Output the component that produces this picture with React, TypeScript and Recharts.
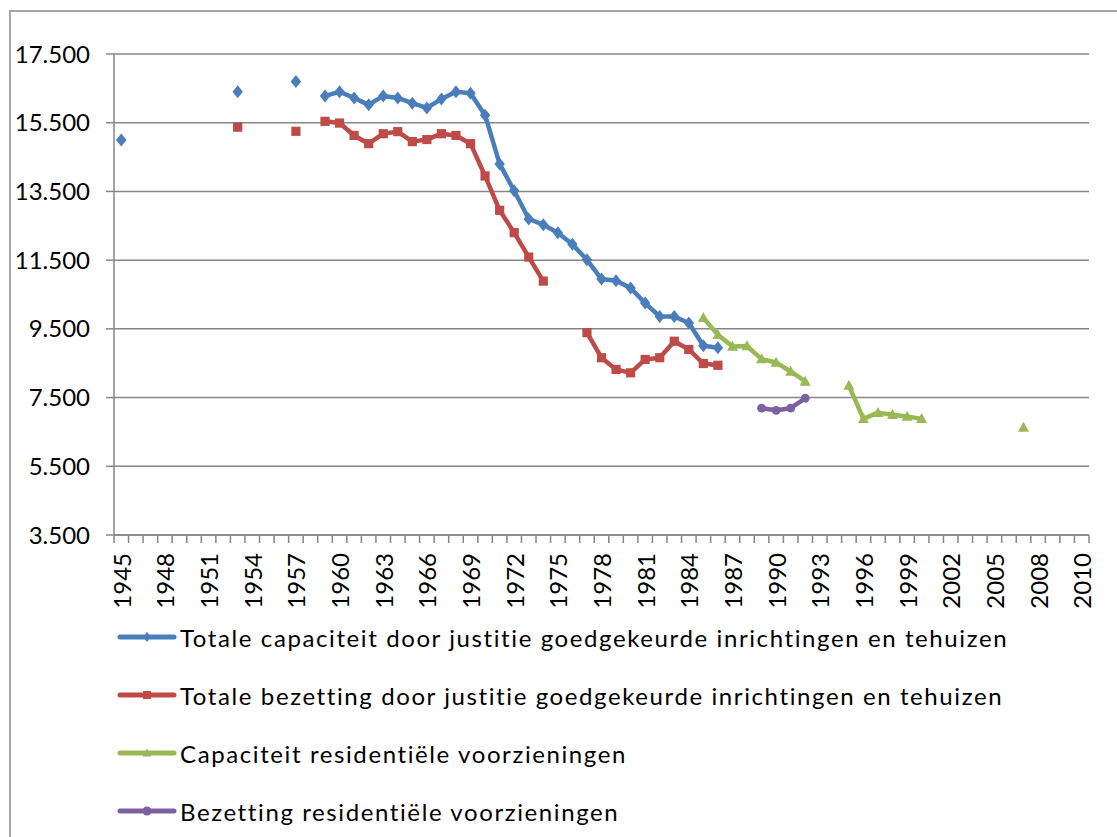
import { CartesianGrid, Legend, Line, LineChart, XAxis, YAxis } from "recharts";

// one slot per category on the source axis; the unlabelled slot before 2010 is kept as in the original
const categories = [
  "1945", "1946", "1947", "1948", "1949", "1950", "1951", "1952", "1953", "1954",
  "1955", "1956", "1957", "1958", "1959", "1960", "1961", "1962", "1963", "1964",
  "1965", "1966", "1967", "1968", "1969", "1970", "1971", "1972", "1973", "1974",
  "1975", "1976", "1977", "1978", "1979", "1980", "1981", "1982", "1983", "1984",
  "1985", "1986", "1987", "1988", "1989", "1990", "1991", "1992", "1993", "1994",
  "1995", "1996", "1997", "1998", "1999", "2000", "2001", "2002", "2003", "2004",
  "2005", "2006", "2007", "2008", "2009", "", "2010",
];

const capaciteitYears = [
  "1945", "1953", "1957", "1959", "1960", "1961", "1962", "1963", "1964", "1965",
  "1966", "1967", "1968", "1969", "1970", "1971", "1972", "1973", "1974", "1975",
  "1976", "1977", "1978", "1979", "1980", "1981", "1982", "1983", "1984", "1985", "1986",
];
const capaciteitValues = [
  15000, 16400, 16700, 16280, 16400, 16220, 16020, 16280, 16220, 16070,
  15930, 16190, 16400, 16360, 15720, 14300, 13520, 12700, 12530, 12300,
  11960, 11510, 10950, 10900, 10690, 10250, 9860, 9860, 9670, 9010, 8950,
];

const bezettingYears = [
  "1953", "1957", "1959", "1960", "1961", "1962", "1963", "1964", "1965", "1966",
  "1967", "1968", "1969", "1970", "1971", "1972", "1973", "1974",
  "1977", "1978", "1979", "1980", "1981", "1982", "1983", "1984", "1985", "1986",
];
const bezettingValues = [
  15370, 15250, 15540, 15490, 15130, 14890, 15180, 15240, 14950, 15010,
  15180, 15130, 14890, 13950, 12950, 12300, 11590, 10890,
  9390, 8660, 8320, 8220, 8610, 8660, 9140, 8900, 8490, 8440,
];

const capResYears = [
  "1985", "1986", "1987", "1988", "1989", "1990", "1991", "1992",
  "1995", "1996", "1997", "1998", "1999", "2000", "2007",
];
const capResValues = [
  9820, 9330, 8990, 9000, 8620, 8520, 8260, 7970,
  7850, 6880, 7060, 7000, 6950, 6880, 6630,
];

const bezResYears = ["1989", "1990", "1991", "1992"];
const bezResValues = [7190, 7130, 7190, 7480];

const yTicks = [3500, 5500, 7500, 9500, 11500, 13500, 15500, 17500];

const seriesLabels = [
  "Totale capaciteit door justitie goedgekeurde inrichtingen en tehuizen",
  "Totale bezetting door justitie goedgekeurde inrichtingen en tehuizen",
  "Capaciteit residentiële voorzieningen",
  "Bezetting residentiële voorzieningen",
];

const BLUE = "#4A7EBB";
const RED = "#BE4B48";
const GREEN = "#98B954";
const PURPLE = "#7D60A0";
const GRID = "#868686";
const FONT = "Lato, 'Open Sans', sans-serif";

const WIDTH = 1117;
const HEIGHT = 837;
const PLOT_LEFT = 114;
const PLOT_RIGHT = 1089;
// line charts put points on a point scale; pad by half a slot so they sit mid-category
const HALF_STEP = (PLOT_RIGHT - PLOT_LEFT) / categories.length / 2;

function lookup(years: string[], values: number[], year: string) {
  if (year === "") return null;
  const i = years.indexOf(year);
  return i >= 0 ? values[i] : null;
}

const chartData = categories.map((year) => ({
  year,
  capaciteit: lookup(capaciteitYears, capaciteitValues, year),
  bezetting: lookup(bezettingYears, bezettingValues, year),
  capRes: lookup(capResYears, capResValues, year),
  bezRes: lookup(bezResYears, bezResValues, year),
}));

function formatThousands(value: number) {
  const s = String(value);
  return s.length > 3 ? `${s.slice(0, s.length - 3)}.${s.slice(-3)}` : s;
}

type Shape = "diamond" | "square" | "triangle" | "circle";

function markerPath(shape: Shape, cx: number, cy: number, s: number) {
  if (shape === "diamond") {
    return `M${cx},${cy - s * 1.25}L${cx + s},${cy}L${cx},${cy + s * 1.25}L${cx - s},${cy}Z`;
  }
  if (shape === "square") {
    return `M${cx - s},${cy - s}H${cx + s}V${cy + s}H${cx - s}Z`;
  }
  if (shape === "triangle") {
    return `M${cx},${cy - s * 1.15}L${cx + s * 1.1},${cy + s * 0.85}L${cx - s * 1.1},${cy + s * 0.85}Z`;
  }
  return "";
}

function makeDot(shape: Shape, color: string, size: number) {
  return (props: any) => {
    const { cx, cy, index } = props;
    if (cx == null || cy == null || props.value == null) return <g key={`d-${index}`} />;
    if (shape === "circle") {
      return <circle key={`d-${index}`} cx={cx} cy={cy} r={size} fill={color} />;
    }
    return <path key={`d-${index}`} d={markerPath(shape, cx, cy, size)} fill={color} />;
  };
}

function XTick(props: any) {
  const { x, y, payload, index } = props;
  const showLabel = index % 3 === 0;
  return (
    <g>
      {index === 0 ? (
        <line x1={x - HALF_STEP} y1={y} x2={x - HALF_STEP} y2={y + 8} stroke={GRID} strokeWidth={1.5} />
      ) : null}
      <line x1={x + HALF_STEP} y1={y} x2={x + HALF_STEP} y2={y + 8} stroke={GRID} strokeWidth={1.5} />
      {showLabel ? (
        <text
          x={x}
          y={y + 18}
          transform={`rotate(-90 ${x} ${y + 18})`}
          textAnchor="end"
          dominantBaseline="central"
          fontFamily={FONT}
          fontSize={24}
          fill="#000"
        >
          {payload.value}
        </text>
      ) : null}
    </g>
  );
}

const legendRows: { label: string; color: string; shape: Shape }[] = [
  { label: seriesLabels[0], color: BLUE, shape: "diamond" },
  { label: seriesLabels[1], color: RED, shape: "square" },
  { label: seriesLabels[2], color: GREEN, shape: "triangle" },
  { label: seriesLabels[3], color: PURPLE, shape: "circle" },
];

function LegendBox() {
  return (
    <div style={{ position: "relative", height: 232, width: WIDTH }}>
      {legendRows.map((row, i) => (
        <div
          key={row.label}
          style={{
            position: "absolute",
            left: 116,
            top: 32 + i * 58 - 16,
            height: 32,
            display: "flex",
            alignItems: "center",
          }}
        >
          <svg width={62} height={20} style={{ display: "block" }}>
            <line x1={4} y1={10} x2={58} y2={10} stroke={row.color} strokeWidth={5} strokeLinecap="round" />
            {row.shape === "circle" ? (
              <circle cx={31} cy={10} r={4.5} fill={row.color} />
            ) : (
              <path d={markerPath(row.shape, 31, 10, 4)} fill={row.color} />
            )}
          </svg>
          <span
            style={{
              marginLeft: 2,
              fontFamily: FONT,
              fontSize: 24,
              letterSpacing: 1.6,
              color: "#000",
              whiteSpace: "nowrap",
            }}
          >
            {row.label}
          </span>
        </div>
      ))}
    </div>
  );
}

export default function App() {
  return (
    <div
      style={{
        position: "fixed",
        left: 0,
        top: 0,
        width: WIDTH,
        height: HEIGHT,
        overflow: "hidden",
        background: "#fff",
      }}
    >
      <div
        style={{
          position: "absolute",
          left: 9,
          top: 10,
          width: 1200,
          height: 900,
          border: "2px solid #a6a6a6",
        }}
      />
      <div style={{ position: "absolute", left: 0, top: 0 }}>
        <LineChart
          width={WIDTH}
          height={HEIGHT}
          data={chartData}
          margin={{ top: 54, right: WIDTH - PLOT_RIGHT, bottom: 0, left: 0 }}
        >
          <CartesianGrid vertical={false} stroke={GRID} strokeWidth={1.5} />
          <XAxis
            dataKey="year"
            type="category"
            interval={0}
            height={70}
            padding={{ left: HALF_STEP, right: HALF_STEP }}
            tickLine={false}
            tickSize={0}
            tickMargin={0}
            axisLine={{ stroke: GRID, strokeWidth: 1.5 }}
            tick={<XTick />}
          />
          <YAxis
            type="number"
            width={PLOT_LEFT}
            domain={[3500, 17500]}
            ticks={yTicks}
            interval={0}
            tickSize={8}
            tickMargin={16}
            tickFormatter={formatThousands}
            axisLine={{ stroke: GRID, strokeWidth: 1.5 }}
            tickLine={{ stroke: GRID, strokeWidth: 1.5 }}
            tick={{ fill: "#000", fontSize: 24, fontFamily: FONT }}
          />
          <Legend
            verticalAlign="bottom"
            wrapperStyle={{ left: 0, width: WIDTH }}
            content={() => <LegendBox />}
          />
          <Line
            dataKey="capaciteit"
            name={seriesLabels[0]}
            stroke={BLUE}
            strokeWidth={4.5}
            strokeLinejoin="round"
            dot={makeDot("diamond", BLUE, 5.2)}
            activeDot={false}
            connectNulls={false}
            isAnimationActive={false}
          />
          <Line
            dataKey="bezetting"
            name={seriesLabels[1]}
            stroke={RED}
            strokeWidth={4.5}
            strokeLinejoin="round"
            dot={makeDot("square", RED, 4.6)}
            activeDot={false}
            connectNulls={false}
            isAnimationActive={false}
          />
          <Line
            dataKey="capRes"
            name={seriesLabels[2]}
            stroke={GREEN}
            strokeWidth={4.5}
            strokeLinejoin="round"
            dot={makeDot("triangle", GREEN, 5)}
            activeDot={false}
            connectNulls={false}
            isAnimationActive={false}
          />
          <Line
            dataKey="bezRes"
            name={seriesLabels[3]}
            stroke={PURPLE}
            strokeWidth={4.5}
            strokeLinejoin="round"
            dot={makeDot("circle", PURPLE, 4.4)}
            activeDot={false}
            connectNulls={false}
            isAnimationActive={false}
          />
        </LineChart>
      </div>
    </div>
  );
}
